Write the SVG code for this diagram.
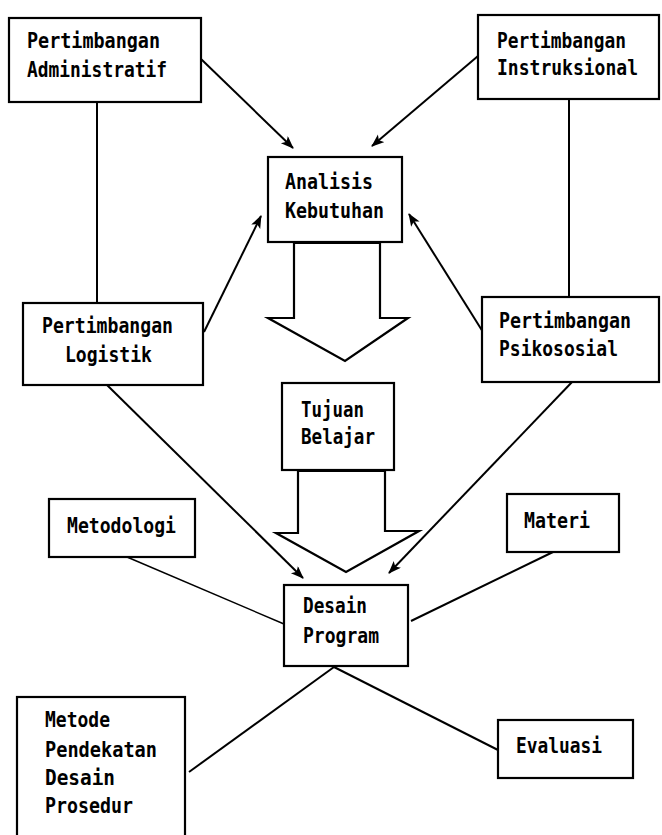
<svg xmlns="http://www.w3.org/2000/svg" width="662" height="835" viewBox="0 0 662 835">
<style>
.box{fill:#fff;stroke:#000;stroke-width:2.2}
.t{font-family:"DejaVu Sans Mono","Liberation Mono",monospace;font-weight:bold;font-size:21px;fill:#000}
.c{stroke:#000;stroke-width:2;fill:none}
.thin{stroke:#000;stroke-width:1.5;fill:none}
.big{fill:#fff;stroke:#000;stroke-width:2.2;stroke-linejoin:miter}
</style>
<defs>
<marker id="ah" markerUnits="userSpaceOnUse" markerWidth="14" markerHeight="12" refX="12" refY="5" orient="auto">
<path d="M0,0 L13,5 L0,10 L3,5 z" fill="#000"/>
</marker>
</defs>
<rect width="662" height="835" fill="#fff"/>
<g id="connectors">
<line class="c" x1="97" y1="102" x2="97" y2="303"/>
<line class="c" x1="569" y1="99" x2="569" y2="297"/>
<line class="c" x1="201" y1="59" x2="293" y2="148" marker-end="url(#ah)"/>
<line class="c" x1="478" y1="56" x2="372" y2="146" marker-end="url(#ah)"/>
<line class="c" x1="204" y1="332" x2="261" y2="216" marker-end="url(#ah)"/>
<line class="c" x1="483" y1="332" x2="409" y2="214" marker-end="url(#ah)"/>
<line class="c" x1="107" y1="385" x2="303" y2="578" marker-end="url(#ah)"/>
<line class="c" x1="573" y1="381" x2="389" y2="573" marker-end="url(#ah)"/>
<line class="thin" x1="127" y1="557" x2="284" y2="624"/>
<line class="c" x1="553" y1="552" x2="411" y2="621"/>
<line class="c" x1="334" y1="667" x2="189" y2="772"/>
<line class="c" x1="334" y1="667" x2="498" y2="750"/>
<polygon class="big" points="294,243 294,318 268,318 345,361 408,318 380,318 380,243"/>
<polygon class="big" points="298,471 298,533 276,533 346,572 419,531 385,531 385,471"/>
</g>
<g id="n-admin">
<rect class="box" x="9" y="18" width="192" height="84"/>
<text class="t" x="27" y="48" textLength="133" lengthAdjust="spacingAndGlyphs">Pertimbangan</text>
<text class="t" x="27" y="77" textLength="140" lengthAdjust="spacingAndGlyphs">Administratif</text>
</g>
<g id="n-instruksional">
<rect class="box" x="478" y="15" width="181" height="84"/>
<text class="t" x="497" y="48" textLength="129" lengthAdjust="spacingAndGlyphs">Pertimbangan</text>
<text class="t" x="497" y="75" textLength="141" lengthAdjust="spacingAndGlyphs">Instruksional</text>
</g>
<g id="n-analisis">
<rect class="box" x="268" y="157" width="134" height="85"/>
<text class="t" x="285" y="189" textLength="88" lengthAdjust="spacingAndGlyphs">Analisis</text>
<text class="t" x="285" y="218" textLength="99" lengthAdjust="spacingAndGlyphs">Kebutuhan</text>
</g>
<g id="n-logistik">
<rect class="box" x="23" y="303" width="180" height="82"/>
<text class="t" x="42" y="333" textLength="131" lengthAdjust="spacingAndGlyphs">Pertimbangan</text>
<text class="t" x="65" y="362" textLength="87" lengthAdjust="spacingAndGlyphs">Logistik</text>
</g>
<g id="n-psikososial">
<rect class="box" x="482" y="297" width="177" height="85"/>
<text class="t" x="499" y="328" textLength="132" lengthAdjust="spacingAndGlyphs">Pertimbangan</text>
<text class="t" x="499" y="356" textLength="119" lengthAdjust="spacingAndGlyphs">Psikososial</text>
</g>
<g id="n-tujuan">
<rect class="box" x="282" y="383" width="112" height="87"/>
<text class="t" x="301" y="417" textLength="63" lengthAdjust="spacingAndGlyphs">Tujuan</text>
<text class="t" x="301" y="444" textLength="74" lengthAdjust="spacingAndGlyphs">Belajar</text>
</g>
<g id="n-metodologi">
<rect class="box" x="49" y="499" width="146" height="58"/>
<text class="t" x="67" y="533" textLength="109" lengthAdjust="spacingAndGlyphs">Metodologi</text>
</g>
<g id="n-materi">
<rect class="box" x="507" y="494" width="112" height="58"/>
<text class="t" x="524" y="528" textLength="66" lengthAdjust="spacingAndGlyphs">Materi</text>
</g>
<g id="n-desain">
<rect class="box" x="284" y="585" width="124" height="81"/>
<text class="t" x="303" y="613" textLength="64" lengthAdjust="spacingAndGlyphs">Desain</text>
<text class="t" x="303" y="643" textLength="76" lengthAdjust="spacingAndGlyphs">Program</text>
</g>
<g id="n-metode">
<rect class="box" x="17" y="697" width="168" height="150"/>
<text class="t" x="45" y="727" textLength="65" lengthAdjust="spacingAndGlyphs">Metode</text>
<text class="t" x="45" y="757" textLength="112" lengthAdjust="spacingAndGlyphs">Pendekatan</text>
<text class="t" x="45" y="785" textLength="70" lengthAdjust="spacingAndGlyphs">Desain</text>
<text class="t" x="45" y="813" textLength="88" lengthAdjust="spacingAndGlyphs">Prosedur</text>
</g>
<g id="n-evaluasi">
<rect class="box" x="498" y="720" width="135" height="58"/>
<text class="t" x="516" y="753" textLength="86" lengthAdjust="spacingAndGlyphs">Evaluasi</text>
</g>
</svg>
